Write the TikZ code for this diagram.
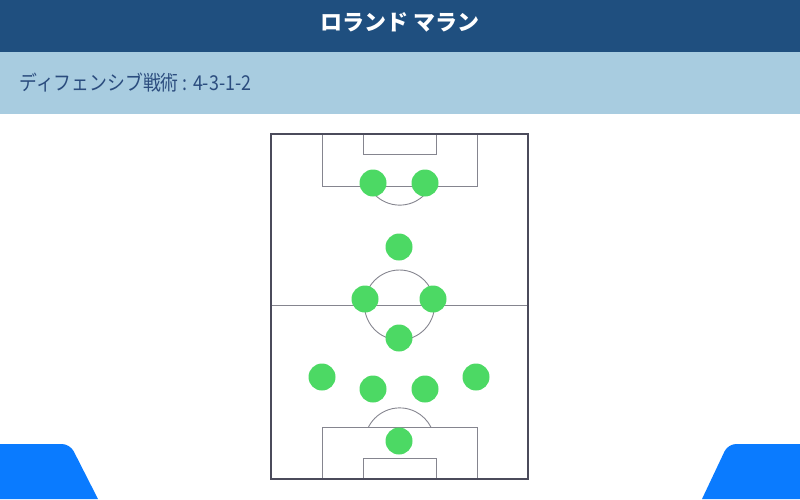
\documentclass[tikz,border=0pt]{standalone}
\usepackage{fontspec}
\setmainfont{Noto Sans CJK JP}
\definecolor{headblue}{HTML}{1F4F7F}
\definecolor{bandblue}{HTML}{A8CCE0}
\definecolor{labelblue}{HTML}{2B4C7E}
\definecolor{outline}{HTML}{4B4B5B}
\definecolor{markline}{HTML}{85858F}
\definecolor{playergreen}{HTML}{4CD964}
\definecolor{tabblue}{HTML}{0A7BFF}
\tikzset{
  player/.style={circle, fill=playergreen, minimum size=27pt, inner sep=0pt},
  markings/.style={draw=markline, line width=0.9pt},
}

\begin{document}
\begin{tikzpicture}[x=1pt, y=-1pt]
    % Page
    \useasboundingbox (0,0) rectangle (800,499);

    % Header bands
    \fill[headblue] (0,0) rectangle (800,52);
    \fill[bandblue] (0,52) rectangle (800,114);
    \node[text=white, font=\fontsize{22}{22}\selectfont\bfseries] (title) at (400,22) {ロランド マラン};
    \node[text=labelblue, anchor=west, font=\fontsize{20.5}{20.5}\selectfont] (tactic) at (16,83) {\scalebox{0.87}[1]{ディフェンシブ戦術 : 4-3-1-2}};

    % Corner tabs
    \fill[tabblue] (0,499) -- (0,444) [rounded corners=8pt] -- (70,444) [sharp corners] -- (98,499) -- cycle;
    \fill[tabblue] (800,499) -- (800,444) [rounded corners=8pt] -- (728,444) [sharp corners] -- (702,499) -- cycle;

    % Define coordinates
    \coordinate (TL) at (271,134);
    \coordinate (BR) at (528,479);
    \coordinate (ML) at (271,305);
    \coordinate (MR) at (528,305);
    \coordinate (C) at (399.5,305);

    % Pitch markings
    \draw[markings] (ML) -- (MR);
    \draw[markings] (C) circle (35);
    \draw[markings] (322,134) rectangle (477,186);
    \draw[markings] (363,134) rectangle (436,154);
    \draw[markings] (322,479) rectangle (477,427);
    \draw[markings] (363,479) rectangle (436,458);
    \draw[markings] (368.5,186) arc[start angle=153, end angle=27, radius=35];
    \draw[markings] (368.5,427) arc[start angle=-153, end angle=-27, radius=35];
    \draw[outline, line width=1.5pt] (TL) rectangle (BR);

    % Players
    \node[player] (st1) at (373,183) {};
    \node[player] (st2) at (425,183) {};
    \node[player] (am) at (399,247) {};
    \node[player] (lcm) at (365,299) {};
    \node[player] (rcm) at (433,299) {};
    \node[player] (dm) at (399,338) {};
    \node[player] (lb) at (322,377) {};
    \node[player] (lcb) at (373,389) {};
    \node[player] (rcb) at (425,389) {};
    \node[player] (rb) at (476,377) {};
    \node[player] (gk) at (399,441) {};
\end{tikzpicture}
\end{document}
